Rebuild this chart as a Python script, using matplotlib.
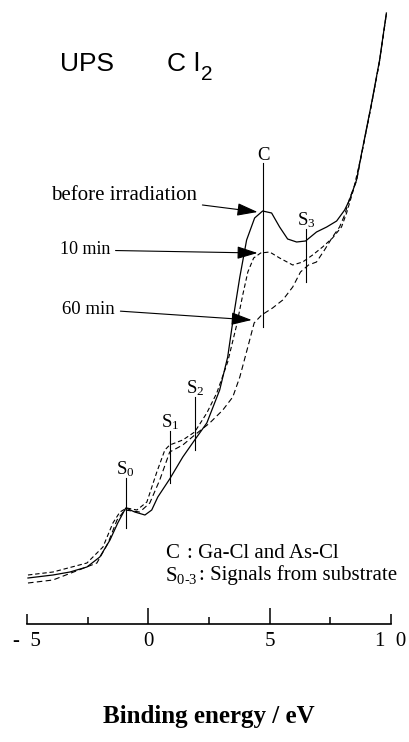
import matplotlib
matplotlib.use("Agg")
import matplotlib.pyplot as plt

# ---------------- data (binding energy in eV, intensity in a.u.) ----------------
energy_before = [-4.96, -3.93, -3.23, -2.53, -2.0, -1.58, -1.26, -0.93, -0.56, -0.14,
                 0.14, 0.39, 0.88, 1.42, 1.91, 2.41, 2.94, 3.27, 3.52, 3.77, 4.05,
                 4.38, 4.71, 5.08, 5.41, 5.74, 6.11, 6.48, 6.93, 7.35, 7.76, 8.09,
                 8.29, 8.58, 8.79, 9.2, 9.53, 9.81]
intensity_before = [4.6, 4.9, 5.2, 5.7, 6.7, 8.4, 10.1, 11.6, 11.2, 10.9,
                    11.4, 12.7, 14.5, 16.7, 18.4, 20.1, 23.4, 26.7, 30.9, 34.7, 38.4,
                    40.6, 41.3, 41.1, 39.7, 38.5, 38.2, 38.3, 39.2, 39.7, 40.3, 41.4,
                    42.4, 44.4, 47.1, 52.1, 56.4, 61.1]

energy_10min = [-4.96, -3.93, -2.53, -1.87, -1.46, -1.17, -0.89, -0.47, -0.06, 0.35,
                0.68, 0.88, 1.42, 1.91, 2.41, 2.82, 3.27, 3.64, 3.89, 4.1, 4.34,
                4.63, 5.0, 5.41, 5.95, 6.36, 6.77, 7.18, 7.59, 7.96, 8.17, 8.45,
                8.79, 9.2, 9.53, 9.81]
intensity_10min = [4.9, 5.2, 6.1, 7.7, 10.1, 11.2, 11.6, 11.4, 12.2, 15.2,
                   17.4, 17.9, 18.4, 19.2, 21.1, 23.1, 26.2, 29.9, 32.9, 35.2, 36.6,
                   37.1, 37.2, 36.6, 35.9, 36.2, 36.9, 37.7, 38.6, 39.7, 41.1, 43.4,
                   47.0, 52.0, 56.3, 61.0]

energy_60min = [-4.96, -3.93, -2.12, -1.66, -1.29, -0.97, -0.35, 0.06, 0.47, 0.88,
                1.42, 1.91, 2.53, 3.07, 3.48, 3.77, 4.1, 4.36, 4.67, 5.12, 5.54,
                5.95, 6.27, 6.6, 6.93, 7.26, 7.59, 7.88, 8.09, 8.3, 8.58, 8.79,
                9.2, 9.53, 9.81]
intensity_60min = [4.1, 4.4, 6.1, 8.1, 10.4, 11.4, 11.2, 12.1, 14.4, 17.2,
                   17.9, 18.9, 20.1, 21.4, 22.7, 24.7, 27.7, 30.1, 30.9, 31.6, 32.4,
                   33.7, 35.2, 35.9, 36.2, 37.4, 38.7, 39.7, 40.9, 42.6, 44.3, 47.0,
                   52.0, 56.3, 61.0]

# peak markers
peak_names = ["C", "S3", "S2", "S1", "S0"]
peak_energy = [4.73, 6.5, 1.93, 0.9, -0.93]
peak_top = [46.1, 39.5, 22.7, 19.3, 14.6]
peak_bottom = [29.7, 34.2, 17.4, 14.1, 9.6]

tick_values = [-5, 0, 5, 10]
tick_labels = ["-  5", "0", "5", "1  0"]
minor_values = [-2.5, 2.5, 7.5]

# ---------------- fonts ----------------
serif = "Liberation Serif"
sans = ["Liberation Sans", "DejaVu Sans"]
plt.rcParams["font.family"] = [serif, "DejaVu Serif"]
plt.rcParams["mathtext.fontset"] = "custom"
plt.rcParams["mathtext.rm"] = serif
plt.rcParams["mathtext.it"] = serif + ":italic"
plt.rcParams["mathtext.bf"] = serif + ":bold"

fig = plt.figure(figsize=(4.09, 7.42), dpi=100)
ax = fig.add_axes([27 / 409, 118 / 742, 364 / 409, 614 / 742])
ax.set_xlim(-5, 10)
ax.set_ylim(0, 61.4)

ax.plot(energy_before, intensity_before, color="black", lw=0.9, solid_joinstyle="round")
ax.plot(energy_10min, intensity_10min, color="black", lw=0.8, dashes=(4, 2.5))
ax.plot(energy_60min, intensity_60min, color="black", lw=0.8, dashes=(5, 3))

for name, e, t, b in zip(peak_names, peak_energy, peak_top, peak_bottom):
    ax.plot([e, e], [b, t], color="black", lw=0.8)
    if name == "C":
        label = "C"
    else:
        label = "S$_{" + name[1] + "}$"
    ax.text(e, t - 0.1, label, ha="center", va="bottom", fontsize=13.5)

# arrows with labels
arrow_kw = dict(arrowstyle="-|>,head_length=0.9,head_width=0.28", color="black",
                lw=0.8, shrinkA=2, shrinkB=0, mutation_scale=14)
ax.annotate("before irradiation", xy=(4.5, 41.2), xytext=(2.0, 42.9),
            ha="right", va="center", fontsize=15, arrowprops=arrow_kw)
ax.annotate("10 min", xy=(4.5, 37.1), xytext=(-1.58, 37.4),
            ha="right", va="center", fontsize=13, arrowprops=arrow_kw)
ax.annotate("60 min", xy=(4.26, 30.4), xytext=(-1.38, 31.5),
            ha="right", va="center", fontsize=13.5, arrowprops=arrow_kw)

# title-like text
ax.text(-2.53, 56.0, "UPS", ha="center", va="center", fontsize=19, family=sans)
ax.text(1.13, 56.0, "C", ha="center", va="center", fontsize=19, family=sans)
ax.text(1.98, 56.0, "l", ha="center", va="center", fontsize=19, family=sans)
ax.text(2.42, 54.9, "2", ha="center", va="center", fontsize=15, family=sans)

# legend-like notes
ax.text(0.68, 7.1, "C", ha="left", va="center", fontsize=15)
ax.text(1.6, 7.1, ": Ga-Cl and As-Cl", ha="left", va="center", fontsize=15)
ax.text(0.68, 4.9, "S$_{0\u20113}$", ha="left", va="center", fontsize=15)
ax.text(2.07, 4.9, ": Signals from substrate", ha="left", va="center", fontsize=15)

# axes styling
for s in ["top", "left", "right"]:
    ax.spines[s].set_visible(False)
ax.spines["bottom"].set_linewidth(1.2)
ax.set_yticks([])
ax.set_xticks(tick_values)
ax.set_xticklabels(tick_labels, fontsize=15)
ax.set_xticks(minor_values, minor=True)
ax.tick_params(axis="x", which="major", direction="in", length=11.5, width=1.1, pad=6)
ax.tick_params(axis="x", which="minor", direction="in", length=5, width=1.1)
for i, tk in enumerate(ax.xaxis.get_major_ticks()):
    if tick_values[i] in (-5, 10):
        tk.tick1line.set_markersize(7.5)
ax.set_xlabel("Binding energy / eV", fontsize=18, fontweight="bold", labelpad=39)

fig.savefig("out.png", dpi=100)
